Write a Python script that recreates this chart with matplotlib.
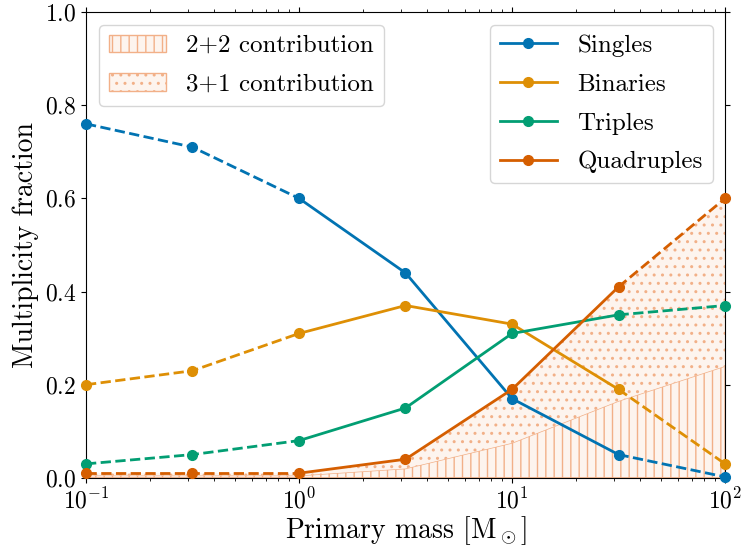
import numpy as np
import matplotlib
matplotlib.use("Agg")
import matplotlib.pyplot as plt
from matplotlib.patches import Patch
from matplotlib.lines import Line2D

plt.rcParams['font.family'] = 'serif'
plt.rcParams['font.serif'] = ['cmr10']
plt.rcParams['mathtext.fontset'] = 'cm'
plt.rcParams['axes.formatter.use_mathtext'] = True
plt.rcParams['axes.unicode_minus'] = False

# primary mass bins (Msun)
mass = [0.1, 0.316, 1.0, 3.16, 10.0, 31.6, 100.0]

singles = [0.76, 0.71, 0.60, 0.44, 0.17, 0.05, 0.002]
binaries = [0.20, 0.23, 0.31, 0.37, 0.33, 0.19, 0.03]
triples = [0.03, 0.05, 0.08, 0.15, 0.31, 0.35, 0.37]
quadruples = [0.01, 0.01, 0.01, 0.04, 0.19, 0.41, 0.60]

# upper edge of the 2+2 part of the quadruple fraction
quad_22 = [0.005, 0.005, 0.005, 0.02, 0.075, 0.165, 0.24]

series = [("Singles", singles, "#0173b2"),
          ("Binaries", binaries, "#de8f05"),
          ("Triples", triples, "#029e73"),
          ("Quadruples", quadruples, "#d55e00")]

# which mass bins are well constrained (drawn solid)
solid_lo, solid_hi = 2, 5

fig = plt.figure(figsize=(7.44, 5.48), dpi=100)
ax = fig.add_axes([0.1156, 0.128, 0.859, 0.85])

face = "#fdf4ee"
hatch_col = "#f2b088"
plt.rcParams['hatch.linewidth'] = 1.0
ax.fill_between(mass, 0, quad_22, facecolor=face, edgecolor=hatch_col,
                hatch='||', linewidth=1.0, zorder=1)
ax.fill_between(mass, quad_22, quadruples, facecolor=face, edgecolor=hatch_col,
                hatch='..', linewidth=0, zorder=1)

x = np.array(mass)
handles = []
for name, vals, col in series:
    y = np.array(vals)
    ax.plot(x[:solid_lo + 1], y[:solid_lo + 1], ls='--', color=col, lw=2, zorder=3)
    ax.plot(x[solid_lo:solid_hi + 1], y[solid_lo:solid_hi + 1], ls='-', color=col, lw=2, zorder=3)
    ax.plot(x[solid_hi:], y[solid_hi:], ls='--', color=col, lw=2, zorder=3)
    ax.plot(x, y, ls='none', marker='o', ms=7, color=col, zorder=4, clip_on=False)
    handles.append(Line2D([], [], color=col, lw=2, marker='o', ms=7, label=name))

ax.set_xscale('log')
ax.set_xlim(0.1, 100)
ax.set_ylim(0, 1)
ax.set_xlabel(r'Primary mass [M$_\odot$]', fontsize=20, labelpad=1)
ax.set_ylabel('Multiplicity fraction', fontsize=20)
ax.tick_params(which='both', top=True, right=True, labelsize=17)

leg1 = ax.legend(handles=handles, loc='upper right', fontsize=18,
                 handlelength=2.3, labelspacing=0.65)
ax.add_artist(leg1)
patches = [Patch(facecolor=face, edgecolor=hatch_col, hatch='||', label='2+2 contribution'),
           Patch(facecolor=face, edgecolor=hatch_col, hatch='..', label='3+1 contribution')]
ax.legend(handles=patches, loc='upper left', fontsize=18,
          handlelength=2.3, labelspacing=0.65)

fig.savefig('out.png', dpi=100)
